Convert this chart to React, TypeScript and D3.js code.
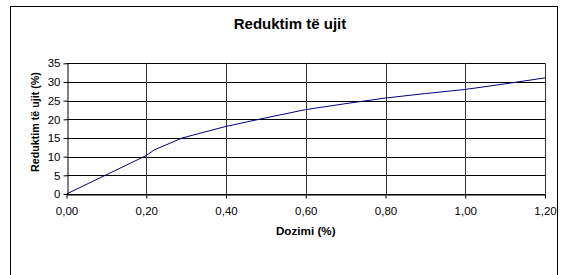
import React, { useRef, useEffect } from 'react';
import * as d3 from 'd3';

// Dozimi (%) vs Reduktim te ujit (%)
const dozimi = [0, 0.2, 0.22, 0.29, 0.4, 0.5, 0.6, 0.7, 0.8, 0.9, 1.0, 1.1, 1.2];
const reduktimi = [0, 10.3, 11.8, 15.0, 18.1, 20.4, 22.6, 24.2, 25.7, 26.9, 28.0, 29.5, 31.1];
const xTicks = [0, 0.2, 0.4, 0.6, 0.8, 1.0, 1.2];
const yTicks = [0, 5, 10, 15, 20, 25, 30, 35];

const App = () => {
  const svgRef = useRef<SVGSVGElement | null>(null);

  useEffect(() => {
    const width = 564;
    const height = 275;
    const left = 66.5, right = 545, top = 63.3, bottom = 194;
    const font = 'Arial, "Liberation Sans", sans-serif';

    const svg = d3.select(svgRef.current)
      .attr('width', width)
      .attr('height', height);

    svg.append('rect')
      .attr('width', width).attr('height', height).attr('fill', '#fff');

    // outer chart border
    svg.append('rect')
      .attr('x', 10.5).attr('y', 6.5)
      .attr('width', 547).attr('height', 300)
      .attr('fill', 'none').attr('stroke', '#000').attr('stroke-width', 1);

    const x = d3.scaleLinear().domain([0, 1.2]).range([left, right]);
    const y = d3.scaleLinear().domain([0, 35]).range([bottom, top]);

    const fmt = (d: number) => d.toFixed(2).replace('.', ',');

    // grid
    svg.append('g').selectAll('line.h')
      .data(yTicks)
      .enter().append('line')
      .attr('x1', left).attr('x2', right)
      .attr('y1', d => Math.round(y(d)) + 0.5).attr('y2', d => Math.round(y(d)) + 0.5)
      .attr('stroke', '#000').attr('stroke-width', 1);

    svg.append('g').selectAll('line.v')
      .data(xTicks.slice(1))
      .enter().append('line')
      .attr('x1', d => Math.round(x(d)) + 0.5).attr('x2', d => Math.round(x(d)) + 0.5)
      .attr('y1', top).attr('y2', bottom)
      .attr('stroke', '#333').attr('stroke-width', 1);

    // axes
    const xAxis = d3.axisBottom(x).tickValues(xTicks).tickFormat(d => fmt(+d)).tickSize(4).tickSizeOuter(0);
    svg.append('g')
      .attr('transform', `translate(0,${Math.round(bottom) + 0.5})`)
      .call(xAxis)
      .call(g => g.selectAll('text').attr('dy', '0.71em').attr('y', 12))
      .attr('font-family', font).attr('font-size', 11.5);

    const yAxis = d3.axisLeft(y).tickValues(yTicks).tickSize(4).tickSizeOuter(0);
    svg.append('g')
      .attr('transform', `translate(${Math.round(left) + 0.5},0)`)
      .call(yAxis)
      .call(g => g.selectAll('text').attr('x', -7))
      .attr('font-family', font).attr('font-size', 11.5);

    svg.selectAll('.domain').attr('stroke', '#000');
    svg.selectAll('.tick line').attr('stroke', '#000');
    svg.selectAll('.tick text').attr('fill', '#000');

    // series
    const pts = dozimi.map((d, i) => [d, reduktimi[i]] as [number, number]);
    const line = d3.line<[number, number]>().x(d => x(d[0])).y(d => y(d[1]));
    svg.append('path')
      .datum(pts)
      .attr('d', line)
      .attr('fill', 'none')
      .attr('stroke', '#000080')
      .attr('stroke-width', 1);

    // titles
    svg.append('text')
      .attr('x', 290).attr('y', 29)
      .attr('text-anchor', 'middle')
      .style('font-family', font).style('font-size', '15px').style('font-weight', 'bold')
      .text('Reduktim të ujit');

    svg.append('text')
      .attr('x', (left + right) / 2).attr('y', 235)
      .attr('text-anchor', 'middle')
      .style('font-family', font).style('font-size', '11.7px').style('font-weight', 'bold')
      .text('Dozimi (%)');

    svg.append('text')
      .attr('transform', `translate(39,122) rotate(-90)`)
      .attr('text-anchor', 'middle')
      .style('font-family', font).style('font-size', '10.7px').style('font-weight', 'bold')
      .text('Reduktim të ujit (%)');

    return () => {
      d3.select(svgRef.current).selectAll('*').remove();
    };
  }, []);

  return (
    <div style={{ position: 'absolute', left: 0, top: 0 }}>
      <svg ref={svgRef} style={{ display: 'block' }}></svg>
    </div>
  );
};

export default App;
